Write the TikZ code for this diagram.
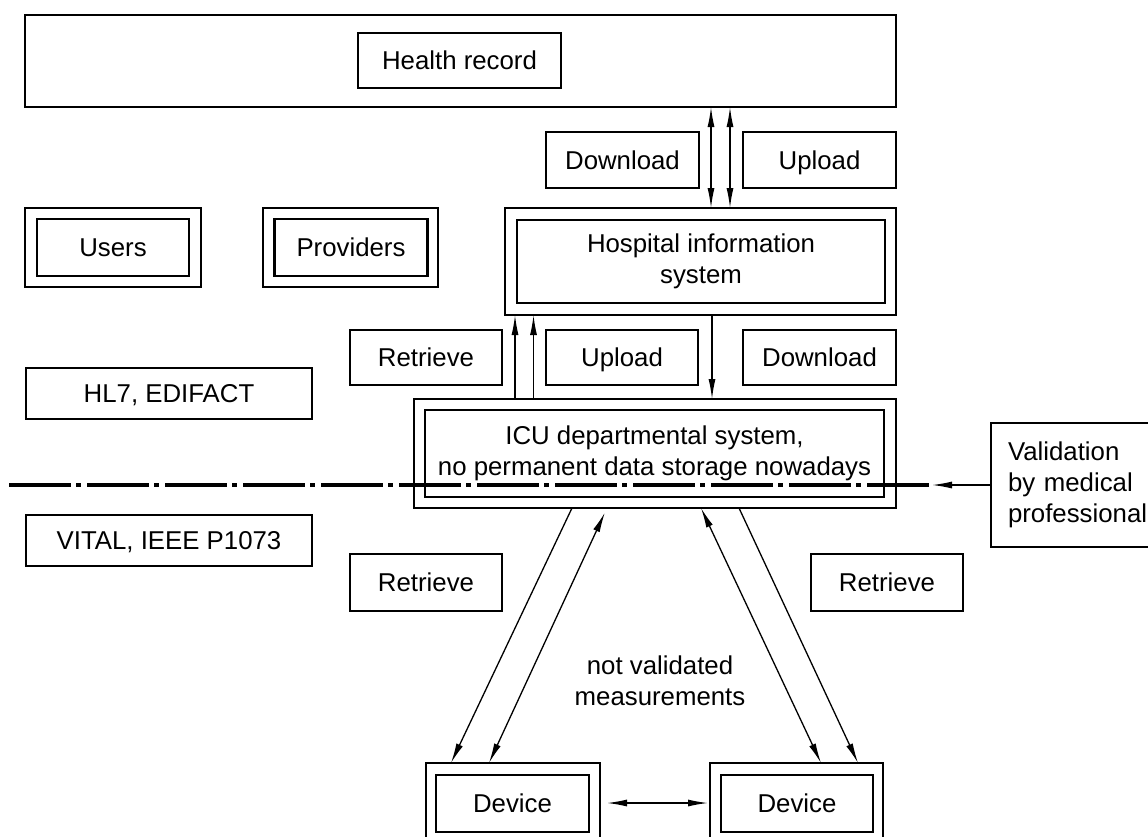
\documentclass[tikz,border=0pt]{standalone}
\usepackage{fontspec}
\setmainfont{Liberation Sans}
\usetikzlibrary{arrows.meta}
\begin{document}
\begin{tikzpicture}[x=1pt,y=-1pt,
  font=\fontsize{25.8}{31}\selectfont,
  box/.style n args={2}{draw, line width=2.2pt, inner sep=0pt, outer sep=0pt,
    minimum width=#1pt, minimum height=#2pt, align=center},
  one/.style={text height=23.2pt, text depth=4.75pt},
  arr/.style={line width=1.3pt, -{Latex[length=20pt,width=7pt]}},
  dbl/.style={line width=1.3pt, {Latex[length=20pt,width=7pt]}-{Latex[length=20pt,width=7pt]}},
  dashdot/.style={line width=3.5pt, dash pattern=on 62pt off 5pt on 5pt off 6pt}
]
\path[use as bounding box, fill=white] (0,0) rectangle (1148,836);
\clip (0,0) rectangle (1148,836);

% top
\node[box={871}{92}] (top) at (460.5,61) {};
\node[box={203}{55}, one] (hr) at (459.5,60.5) {Health record};
\node[box={153}{56}, one] (dl1) at (622.5,160) {Download};
\node[box={153}{56}, one] (ul1) at (819.5,160) {Upload};

% users / providers
\node[box={176}{79}] (usersO) at (113,247.5) {};
\node[box={152}{57}, one] (users) at (113,247.5) {Users};
\node[box={175}{79}] (provO) at (350.5,247.5) {};
\node[box={153}{57}, one] (prov) at (351,247.5) {Providers};

% hospital information system
\node[box={391}{107}] (hisO) at (700.5,261.5) {};
\node[box={368}{83}] (his) at (701,261.5) {Hospital information\\system};

\node[box={152}{55}, one] (ret1) at (426,357.5) {Retrieve};
\node[box={152}{55}, one] (ul2) at (622,357.5) {Upload};
\node[box={153}{55}, one] (dl2) at (819.5,357.5) {Download};

\node[box={286}{51}, one] (hl7) at (169,393.5) {HL7, EDIFACT};

% ICU
\node[box={482}{109}] (icuO) at (655,453.5) {};
\node[box={459}{87}] (icu) at (654.5,453.5) {ICU departmental system,\\no permanent data storage nowadays};

\node[box={286}{51}, one] (vital) at (169,540.5) {VITAL, IEEE P1073};

% validation
\node[draw, line width=2.2pt, outer sep=0pt, inner xsep=17pt, inner ysep=0pt,
  minimum height=124pt, text width=140pt, align=left, anchor=west]
  (val) at (991,485) {Validation\\by medical\\professional};

\node[box={152}{57}, one] (ret2) at (426,582.5) {Retrieve};
\node[box={152}{57}, one] (ret3) at (887,582.5) {Retrieve};

\node[align=center] (nv) at (660,681) {not validated\\measurements};

% devices
\node[box={174}{97}] (devLO) at (513,811.5) {};
\node[box={153}{57}, one] (devL) at (512.5,803.5) {Device};
\node[box={173}{97}] (devRO) at (796.5,811.5) {};
\node[box={152}{57}, one] (devR) at (797,803.5) {Device};

% connectors
\draw[dbl] (top.south -| 711,0) -- (hisO.north -| 711,0);
\draw[dbl] (top.south -| 730,0) -- (hisO.north -| 730,0);
\draw[arr] (icuO.north -| 515,0) -- (hisO.south -| 515,0);
\draw[arr] (icuO.north -| 533.5,0) -- (hisO.south -| 533.5,0);
\draw[arr] (hisO.south -| 712,0) -- (icuO.north -| 712,0);

\draw[arr] (icuO.south -| 572,0) -- (devLO.north -| 451,0);
\draw[dbl, shorten >=5pt] (devLO.north -| 489,0) -- (icuO.south -| 607,0);
\draw[dbl] (icuO.south -| 701,0) -- (devRO.north -| 821,0);
\draw[arr] (icuO.south -| 739,0) -- (devRO.north -| 858,0);

\draw[dbl, shorten <=7pt, shorten >=2pt] (devLO.east |- 0,803) -- (devRO.west |- 0,803);

% separation line
\coordinate (lstart) at (9,485);
\coordinate (lend) at (932,485);
\draw[dashdot] (lstart) -- (lend);
\draw[arr] (val.west) -- (lend);
\end{tikzpicture}
\end{document}
